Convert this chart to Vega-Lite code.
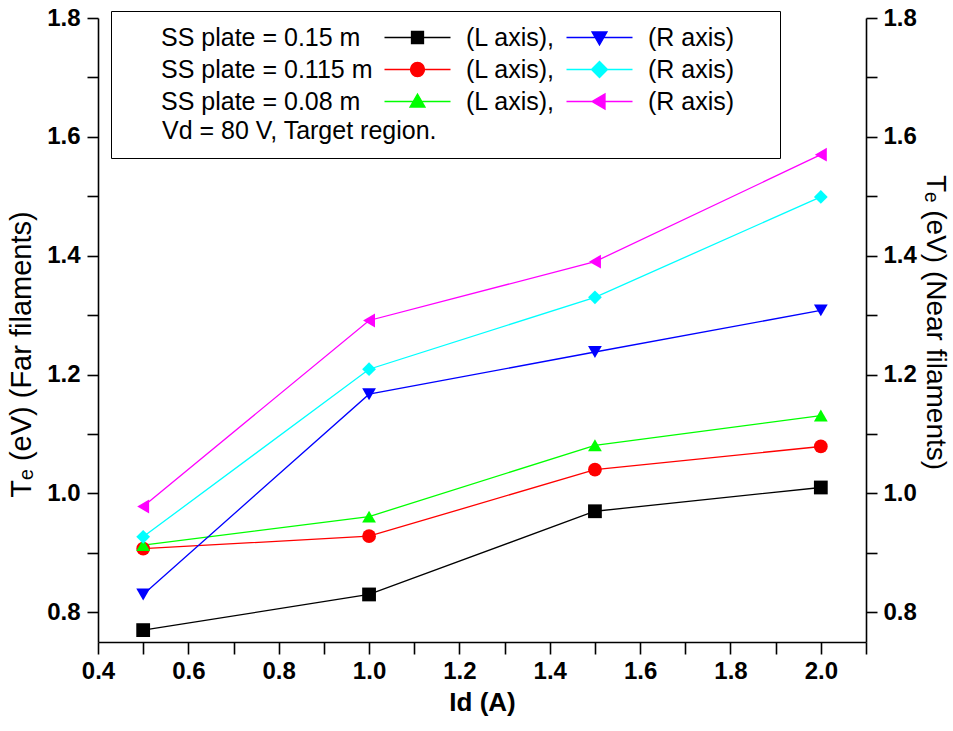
{
  "$schema": "https://vega.github.io/schema/vega-lite/v6.json",
  "width": 768,
  "height": 624,
  "autosize": {"type": "none"},
  "padding": {"left": 98, "top": 18, "right": 87, "bottom": 89},
  "background": "white",
  "config": {
    "view": {"stroke": null},
    "font": "Liberation Sans",
    "axis": {
      "domainColor": "black", "domainWidth": 1.6, "tickColor": "black", "tickWidth": 1.6,
      "labelColor": "black", "titleColor": "black", "grid": false,
      "labelFont": "Liberation Sans", "titleFont": "Liberation Sans",
      "labelFlush": false, "labelOverlap": false
    }
  },
  "datasets": {
    "d": [
      {"Id": 0.5, "Te": 0.77, "series": "a", "side": "L"},
      {"Id": 1.0, "Te": 0.83, "series": "a", "side": "L"},
      {"Id": 1.5, "Te": 0.97, "series": "a", "side": "L"},
      {"Id": 2.0, "Te": 1.01, "series": "a", "side": "L"},
      {"Id": 0.5, "Te": 0.83, "series": "b", "side": "R"},
      {"Id": 1.0, "Te": 1.167, "series": "b", "side": "R"},
      {"Id": 1.5, "Te": 1.238, "series": "b", "side": "R"},
      {"Id": 2.0, "Te": 1.308, "series": "b", "side": "R"},
      {"Id": 0.5, "Te": 0.907, "series": "c", "side": "L"},
      {"Id": 1.0, "Te": 0.928, "series": "c", "side": "L"},
      {"Id": 1.5, "Te": 1.04, "series": "c", "side": "L"},
      {"Id": 2.0, "Te": 1.079, "series": "c", "side": "L"},
      {"Id": 0.5, "Te": 0.927, "series": "d", "side": "R"},
      {"Id": 1.0, "Te": 1.209, "series": "d", "side": "R"},
      {"Id": 1.5, "Te": 1.33, "series": "d", "side": "R"},
      {"Id": 2.0, "Te": 1.499, "series": "d", "side": "R"},
      {"Id": 0.5, "Te": 0.913, "series": "e", "side": "L"},
      {"Id": 1.0, "Te": 0.961, "series": "e", "side": "L"},
      {"Id": 1.5, "Te": 1.081, "series": "e", "side": "L"},
      {"Id": 2.0, "Te": 1.131, "series": "e", "side": "L"},
      {"Id": 0.5, "Te": 0.978, "series": "f", "side": "R"},
      {"Id": 1.0, "Te": 1.291, "series": "f", "side": "R"},
      {"Id": 1.5, "Te": 1.39, "series": "f", "side": "R"},
      {"Id": 2.0, "Te": 1.57, "series": "f", "side": "R"}
    ]
  },
  "data": {"name": "d"},
  "encoding": {
    "x": {
      "field": "Id", "type": "quantitative",
      "scale": {"domain": [0.4, 2.1], "nice": false, "zero": false},
      "axis": {
        "orient": "bottom",
        "values": [0.4, 0.5, 0.6, 0.7, 0.8, 0.9, 1.0, 1.1, 1.2, 1.3, 1.4, 1.5, 1.6, 1.7, 1.8, 1.9, 2.0, 2.1],
        "labelExpr": "round(datum.value*10)%2==0 ? format(datum.value, '.1f') : ''",
        "tickSize": 12, "labelPadding": 5, "labelFontSize": 24, "labelFontWeight": "bold",
        "title": "Id (A)", "titleFontSize": 26, "titleFontWeight": "bold", "titlePadding": 6,
        "encode": {"ticks": {"update": {"y2": {"signal": "round(datum.value*10)%2==0 ? 12 : 6"}}}}
      }
    }
  },
  "layer": [
    {
      "transform": [{"filter": "datum.side == 'L'"}],
      "mark": {"type": "line", "strokeWidth": 1.3},
      "encoding": {
        "y": {
          "field": "Te", "type": "quantitative",
          "scale": {"domain": [0.75, 1.8], "nice": false, "zero": false},
          "axis": {
            "orient": "left",
            "values": [0.8, 0.9, 1.0, 1.1, 1.2, 1.3, 1.4, 1.5, 1.6, 1.7, 1.8],
            "labelExpr": "round(datum.value*10)%2==0 ? format(datum.value, '.1f') : ''",
            "tickSize": 11, "labelPadding": 7, "labelFontSize": 24, "labelFontWeight": "bold",
            "title": "Tₑ (eV) (Far filaments)", "titleFontSize": 29, "titleFontWeight": "normal",
            "titlePadding": 10, "titleY": 336,
            "encode": {"ticks": {"update": {"x2": {"signal": "round(datum.value*10)%2==0 ? -11 : -6"}}}}
          }
        },
        "stroke": {
          "field": "series", "type": "nominal", "legend": null,
          "scale": {"domain": ["a", "b", "c", "d", "e", "f"],
                    "range": ["#000000", "#0000ff", "#ff0000", "#00ffff", "#00ff00", "#ff00ff"]}
        }
      }
    },
    {
      "transform": [{"filter": "datum.side == 'R'"}],
      "mark": {"type": "line", "strokeWidth": 1.3},
      "encoding": {
        "y": {
          "field": "Te", "type": "quantitative",
          "scale": {"domain": [0.75, 1.8], "nice": false, "zero": false},
          "axis": {
            "orient": "right",
            "values": [0.8, 0.9, 1.0, 1.1, 1.2, 1.3, 1.4, 1.5, 1.6, 1.7, 1.8],
            "labelExpr": "round(datum.value*10)%2==0 ? format(datum.value, '.1f') : ''",
            "tickSize": 11, "labelPadding": 6, "labelFontSize": 24, "labelFontWeight": "bold",
            "title": "Tₑ (eV) (Near filaments)", "titleFontSize": 28, "titleFontWeight": "normal",
            "titlePadding": 4, "titleY": 304,
            "encode": {"ticks": {"update": {"x2": {"signal": "round(datum.value*10)%2==0 ? 11 : 6"}}}}
          }
        },
        "stroke": {
          "field": "series", "type": "nominal", "legend": null,
          "scale": {"domain": ["a", "b", "c", "d", "e", "f"],
                    "range": ["#000000", "#0000ff", "#ff0000", "#00ffff", "#00ff00", "#ff00ff"]}
        }
      }
    },
    {
      "transform": [{"filter": "datum.side == 'L'"}],
      "mark": {"type": "point", "filled": true, "size": 190, "opacity": 1},
      "encoding": {
        "y": {"field": "Te", "type": "quantitative", "scale": {"domain": [0.75, 1.8], "nice": false, "zero": false}, "axis": null},
        "color": {
          "field": "series", "type": "nominal", "legend": null,
          "scale": {"domain": ["a", "b", "c", "d", "e", "f"],
                    "range": ["#000000", "#0000ff", "#ff0000", "#00ffff", "#00ff00", "#ff00ff"]}
        },
        "shape": {
          "field": "series", "type": "nominal", "legend": null,
          "scale": {"domain": ["a", "b", "c", "d", "e", "f"],
                    "range": ["square", "triangle-down", "circle", "diamond", "triangle-up", "triangle-left"]}
        }
      }
    },
    {
      "transform": [{"filter": "datum.side == 'R'"}],
      "mark": {"type": "point", "filled": true, "size": 190, "opacity": 1},
      "encoding": {
        "y": {"field": "Te", "type": "quantitative", "scale": {"domain": [0.75, 1.8], "nice": false, "zero": false}, "axis": null},
        "color": {
          "field": "series", "type": "nominal", "legend": null,
          "scale": {"domain": ["a", "b", "c", "d", "e", "f"],
                    "range": ["#000000", "#0000ff", "#ff0000", "#00ffff", "#00ff00", "#ff00ff"]}
        },
        "shape": {
          "field": "series", "type": "nominal", "legend": null,
          "scale": {"domain": ["a", "b", "c", "d", "e", "f"],
                    "range": ["square", "triangle-down", "circle", "diamond", "triangle-up", "triangle-left"]}
        }
      }
    },
    {
      "mark": {"type": "point", "filled": true, "size": 10, "opacity": 0},
      "encoding": {
        "y": {"field": "Te", "type": "quantitative", "scale": {"domain": [0.75, 1.8], "nice": false, "zero": false}, "axis": null},
        "color": {
          "field": "series", "type": "nominal",
          "scale": {"domain": ["p1", "p2", "p3", "a", "c", "e", "b", "d", "f", "q1", "q2", "q3"],
                    "range": ["#ffffff", "#ffffff", "#ffffff", "#000000", "#ff0000", "#00ff00", "#0000ff", "#00ffff", "#ff00ff", "#ffffff", "#ffffff", "#ffffff"]},
          "legend": {
            "orient": "none", "legendX": 13, "legendY": -7,
            "columns": 4, "gridAlign": "none",
            "title": "Vd = 80 V, Target region.",
            "titleOrient": "bottom", "titleFontWeight": "normal", "titleFontSize": 25, "titleFont": "Liberation Sans", "titleColor": "black", "titlePadding": 4, "titleLimit": 600,
            "labelExpr": "datum.value == 'p1' ? 'SS plate = 0.15 m' : datum.value == 'p2' ? 'SS plate = 0.115 m' : datum.value == 'p3' ? 'SS plate = 0.08 m' : indexof(['a','c','e'], datum.value) >= 0 ? '(L axis),' : indexof(['b','d','f'], datum.value) >= 0 ? '(R axis)' : ''",
            "labelFontSize": 25, "labelFont": "Liberation Sans", "labelColor": "black", "labelLimit": 500,
            "symbolSize": 400, "symbolStrokeWidth": 1.3, "symbolOpacity": 1,
            "labelOffset": 36, "columnPadding": 8, "rowPadding": 6,
            "padding": 14, "fillColor": "white", "strokeColor": "black",
            "encode": {
              "title": {"update": {"dx": {"value": 37}}},
              "symbols": {"update": {
                "stroke": {"signal": "datum.value == 'a' ? '#000000' : datum.value == 'b' ? '#0000ff' : datum.value == 'c' ? '#ff0000' : datum.value == 'd' ? '#00ffff' : datum.value == 'e' ? '#00ff00' : datum.value == 'f' ? '#ff00ff' : '#ffffff'"},
                "strokeWidth": {"value": 1.3},
                "opacity": {"signal": "indexof(['p1','p2','p3','q1','q2','q3'], datum.value) >= 0 ? 0 : 1"}
              }},
              "labels": {"update": {"dx": {"signal": "indexof(['p1','p2','p3'], datum.value) >= 0 ? -25 : indexof(['q1','q2','q3'], datum.value) >= 0 ? -40 : 0"}}}
            }
          }
        },
        "shape": {
          "field": "series", "type": "nominal",
          "scale": {"domain": ["p1", "p2", "p3", "a", "c", "e", "b", "d", "f", "q1", "q2", "q3"],
                    "range": ["M-1,0H1", "M-1,0H1", "M-1,0H1",
                              "M-3.3,0H3.3M-0.6,-0.6H0.6V0.6H-0.6Z",
                              "M-3.3,0H3.3M0.7,0A0.7,0.7,0,1,1,-0.7,0A0.7,0.7,0,1,1,0.7,0Z",
                              "M-3.3,0H3.3M-0.75,0.55L0.75,0.55L0,-0.75Z",
                              "M-3.3,0H3.3M-0.75,-0.55L0.75,-0.55L0,0.75Z",
                              "M-3.3,0H3.3M-0.8,0L0,-0.8L0.8,0L0,0.8Z",
                              "M-3.3,0H3.3M0.55,-0.75L0.55,0.75L-0.75,0Z",
                              "M-1,0H1", "M-1,0H1", "M-1,0H1"]}
        }
      }
    }
  ],
  "resolve": {"scale": {"y": "independent", "color": "independent", "shape": "independent"}}
}
